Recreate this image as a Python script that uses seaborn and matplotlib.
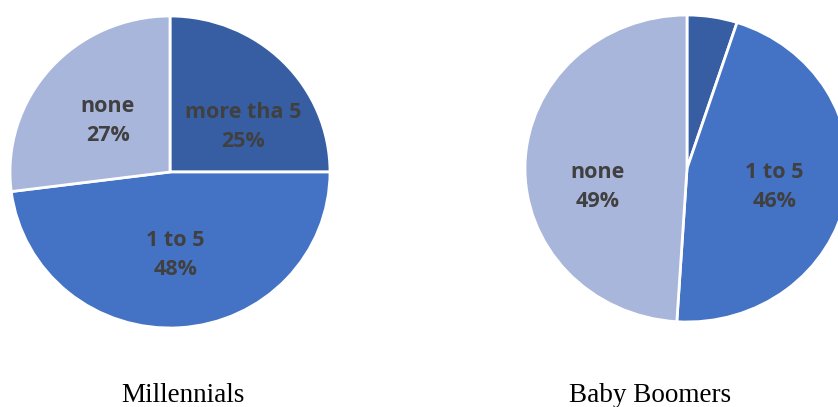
import numpy as np
import matplotlib
matplotlib.use("Agg")
import matplotlib.pyplot as plt
import seaborn as sns

sns.set_theme(style="white")
plt.rcParams['font.family'] = ['Open Sans', 'DejaVu Sans']

categories = ["more tha 5", "1 to 5", "none"]
millennials = [25, 48, 27]
boomers = [5, 46, 49]
titles = ["Millennials", "Baby Boomers"]
show_labels = [[True, True, True], [False, True, True]]
colors = ["#375EA3", "#4472C4", "#A9B6DB"]
# label nudges in axes-data units (style only)
label_nudge = [[(0.09, -0.08), (0.0, -0.01), (0.0, -0.02)],
               [(0.0, 0.0), (0.0, -0.02), (0.0, -0.14)]]

W, H = 838, 407
fig = plt.figure(figsize=(W / 100, H / 100), dpi=100)

def pix_axes(x0, y0, x1, y1):
    return fig.add_axes([x0 / W, 1 - y1 / H, (x1 - x0) / W, (y1 - y0) / H])

axes = [pix_axes(10, 16, 330, 328), pix_axes(525, 15, 849, 322)]
label_dist = [0.52, 0.55]

for ax, vals, shows, ld, nudges in zip(axes, [millennials, boomers], show_labels,
                                       label_dist, label_nudge):
    wedges, _ = ax.pie(vals, colors=colors, startangle=90, counterclock=False,
                       radius=1, wedgeprops=dict(edgecolor="white", linewidth=2))
    ax.set_aspect("auto")
    ax.set_xlim(-1.0, 1.0)
    ax.set_ylim(-1.0, 1.0)
    ax.axis("off")
    total = sum(vals)
    for w, cat, v, s, (nx, ny) in zip(wedges, categories, vals, shows, nudges):
        if not s:
            continue
        mid = np.deg2rad((w.theta1 + w.theta2) / 2)
        ax.text(ld * np.cos(mid) + nx, ld * np.sin(mid) + ny,
                f"{cat}\n{round(100 * v / total)}%",
                ha="center", va="center", fontsize=15.5, fontweight="bold",
                color="#404040", linespacing=1.5)

fig.text(183 / W, 1 - 395 / H, titles[0], ha="center", va="center",
         fontsize=19.5, family="Liberation Serif", color="black")
fig.text(650 / W, 1 - 395 / H, titles[1], ha="center", va="center",
         fontsize=19.5, family="Liberation Serif", color="black")

fig.savefig("out.png", dpi=100, facecolor="white")
